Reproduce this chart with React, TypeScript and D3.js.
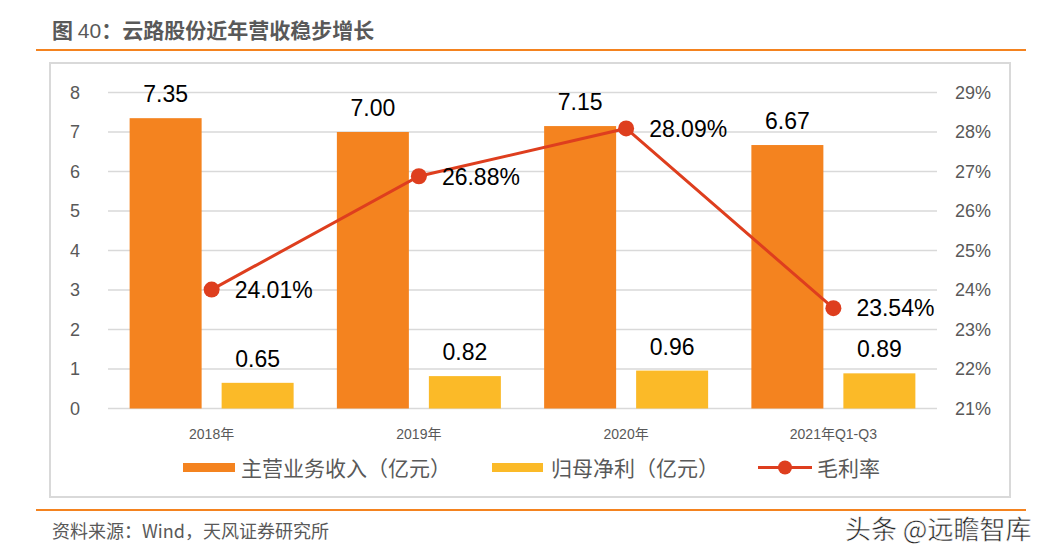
import React from "react";
import * as d3 from "d3";

const categories = ["2018年", "2019年", "2020年", "2021年Q1-Q3"];
const revenue = [7.35, 7.0, 7.15, 6.67];
const netProfit = [0.65, 0.82, 0.96, 0.89];
const grossMargin = [24.01, 26.88, 28.09, 23.54];
const leftTicks = [0, 1, 2, 3, 4, 5, 6, 7, 8];
const rightTicks = [21, 22, 23, 24, 25, 26, 27, 28, 29];
const seriesNames = ["主营业务收入（亿元）", "归母净利（亿元）", "毛利率"];

const W = 1053;
const H = 559;
const FONT = "'Liberation Sans', Arial, 'Noto Sans CJK SC', sans-serif";
const CJK = "'Noto Sans CJK SC', 'Liberation Sans', sans-serif";
const ORANGE = "#F4831F";
const YELLOW = "#FBBA28";
const RED = "#DE3E1E";
const GRAY = "#595959";
const GRID = "#D9D9D9";

export default function App() {
  const plotL = 108, plotR = 937, plotT = 92.5, plotB = 408.5;
  const x = d3.scaleBand<string>().domain(categories).range([plotL, plotR]).padding(0);
  const yL = d3.scaleLinear().domain([0, 8]).range([plotB, plotT]);
  const yR = d3.scaleLinear().domain([21, 29]).range([plotB, plotT]);
  const bw = x.bandwidth();
  const barW = 72;
  const gap = 20;
  const cx = (c: string) => (x(c) as number) + bw / 2;
  const line = d3
    .line<number>()
    .x((_, i) => cx(categories[i]))
    .y((d) => yR(d));

  return (
    <div>
      <style>{`body{margin:0;}`}</style>
      <svg width={W} height={H} style={{ display: "block", background: "#fff" }}>
        {/* title */}
        <text x={52} y={38} fontFamily={CJK} fontWeight="bold" fontSize={21} fill={GRAY}>
          图 <tspan fontWeight="normal" fontFamily={FONT}>40</tspan>：云路股份近年营收稳步增长
        </text>
        <line x1={36} x2={1026} y1={50} y2={50} stroke={ORANGE} strokeWidth={2} />

        {/* chart frame */}
        <rect x={50} y={63} width={960} height={434} fill="#fff" stroke={GRID} strokeWidth={2} />

        {/* grid lines */}
        {leftTicks.map((t) => (
          <line key={"g" + t} x1={plotL} x2={plotR} y1={yL(t)} y2={yL(t)} stroke={GRID} strokeWidth={1.5} />
        ))}

        {/* left axis labels */}
        {leftTicks.map((t) => (
          <text key={"l" + t} x={80} y={yL(t)} dy="0.35em" textAnchor="end" fontFamily={FONT} fontSize={18} fill={GRAY}>
            {t}
          </text>
        ))}
        {/* right axis labels */}
        {rightTicks.map((t) => (
          <text key={"r" + t} x={955} y={yR(t)} dy="0.35em" textAnchor="start" fontFamily={FONT} fontSize={18} fill={GRAY}>
            {t}%
          </text>
        ))}

        {/* bars */}
        {categories.map((c, i) => {
          const c0 = cx(c);
          return (
            <g key={"b" + c}>
              <rect x={c0 - gap / 2 - barW} y={yL(revenue[i])} width={barW} height={yL(0) - yL(revenue[i])} fill={ORANGE} />
              <rect x={c0 + gap / 2} y={yL(netProfit[i])} width={barW} height={yL(0) - yL(netProfit[i])} fill={YELLOW} />
              <text x={c0 - gap / 2 - barW / 2} y={yL(revenue[i]) - 16} textAnchor="middle" fontFamily={FONT} fontSize={23} fill="#000">
                {revenue[i].toFixed(2)}
              </text>
              <text x={c0 + gap / 2 + barW / 2} y={yL(netProfit[i]) - 16} textAnchor="middle" fontFamily={FONT} fontSize={23} fill="#000">
                {netProfit[i].toFixed(2)}
              </text>
            </g>
          );
        })}

        {/* x labels */}
        {categories.map((c) => (
          <text key={"x" + c} x={cx(c)} y={439} textAnchor="middle" fontFamily={FONT} fontSize={14} fill={GRAY}>
            {c}
          </text>
        ))}

        {/* line */}
        <path d={line(grossMargin) as string} fill="none" stroke={RED} strokeWidth={3} />
        {grossMargin.map((v, i) => (
          <g key={"m" + i}>
            <circle cx={cx(categories[i])} cy={yR(v)} r={8} fill={RED} />
            <text x={cx(categories[i]) + 23} y={yR(v)} dy="0.36em" fontFamily={FONT} fontSize={23} fill="#000">
              {v.toFixed(2)}%
            </text>
          </g>
        ))}

        {/* legend */}
        <rect x={183} y={463} width={52} height={9} fill={ORANGE} />
        <text x={241} y={468} dy="0.36em" fontFamily={CJK} fontSize={21} fill={GRAY}>
          {seriesNames[0]}
        </text>
        <rect x={492} y={463} width={51} height={9} fill={YELLOW} />
        <text x={551} y={468} dy="0.36em" fontFamily={CJK} fontSize={21} fill={GRAY}>
          {seriesNames[1]}
        </text>
        <line x1={758} x2={812} y1={467.5} y2={467.5} stroke={RED} strokeWidth={3} />
        <circle cx={785} cy={467.5} r={7} fill={RED} />
        <text x={817} y={468} dy="0.36em" fontFamily={CJK} fontSize={21} fill={GRAY}>
          {seriesNames[2]}
        </text>

        {/* footer */}
        <line x1={36} x2={1026} y1={510} y2={510} stroke={ORANGE} strokeWidth={2} />
        <text x={52} y={532} dy="0.36em" fontFamily={CJK} fontSize={18} fill={GRAY}>
          资料来源：Wind，天风证券研究所
        </text>
        <text x={845} y={530} dy="0.36em" fontFamily={CJK} fontSize={26} fill="#222" stroke="#fff" strokeWidth={0.5}>
          头条 @远瞻智库
        </text>
      </svg>
    </div>
  );
}
